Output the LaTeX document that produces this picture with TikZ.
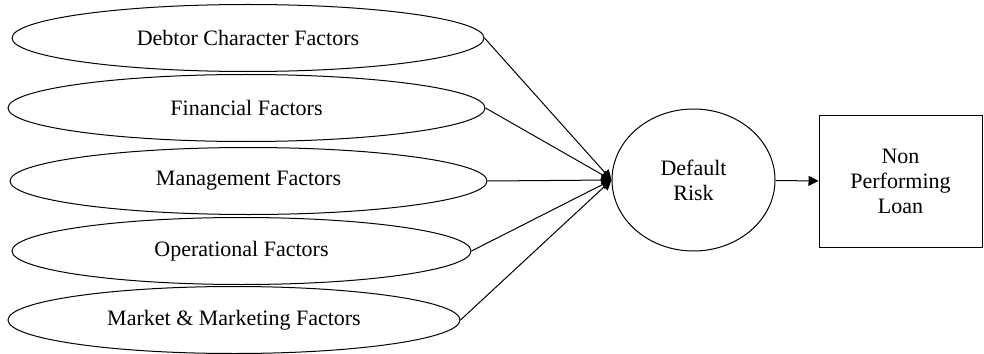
\documentclass[tikz,border=0pt]{standalone}
\usepackage{fontspec}
\setmainfont{Liberation Serif}
\usetikzlibrary{shapes.geometric,arrows.meta}

\begin{document}
\begin{tikzpicture}[x=0.5pt, y=-0.5pt, every node/.style={draw, inner sep=0pt, align=center, font=\fontsize{11}{12.5}\selectfont}, factor/.style={ellipse, minimum height=33.5pt}, >={Triangle[length=5pt, width=5pt]}, line width=0.5pt]
        \useasboundingbox (0,0) rectangle (984,353);

        \node[factor, minimum width=236pt] (f1) at (248,38) {Debtor Character Factors};
        \node[factor, minimum width=238.5pt] (f2) at (246.5,108) {Financial Factors};
        \node[factor, minimum width=238.5pt] (f3) at (248.5,181) {Management Factors};
        \node[factor, minimum width=229.5pt] (f4) at (241.5,251) {Operational Factors};
        \node[factor, minimum width=226pt] (f5) at (234,320) {Market \& Marketing Factors};
        \node[ellipse, minimum width=81.5pt, minimum height=71pt] (risk) at (693.5,180) {Default\\Risk};
        \node[rectangle, minimum width=81.5pt, minimum height=65.5pt] (npl) at (900.5,181.5) {Non\\Performing\\Loan};

        \draw[->] (f1.east) -- (risk.west);
        \draw[->] (f2.east) -- (risk.west);
        \draw[->] (f3.east) -- (risk.west);
        \draw[->] (f4.east) -- (risk.west);
        \draw[->] (f5.east) -- (risk.west);
        \draw[->] (risk) -- (npl);
      \end{tikzpicture}
\end{document}
